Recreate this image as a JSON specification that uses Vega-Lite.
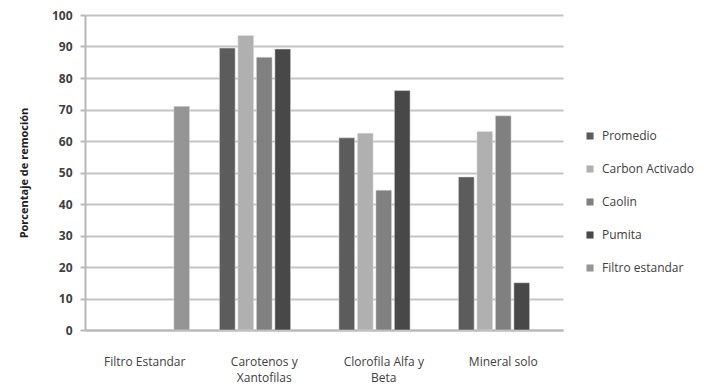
{
  "$schema": "https://vega.github.io/schema/vega-lite/v6.json",
  "width": 478,
  "height": 315,
  "autosize": "none",
  "padding": {"left": 85, "top": 15, "right": 165, "bottom": 55},
  "background": "white",
  "config": {
    "view": {"stroke": null},
    "font": "Open Sans"
  },
  "data": {
    "values": [
      {"grupo": "Filtro Estandar", "serie": "Filtro estandar", "valor": 71},
      {"grupo": "Carotenos y Xantofilas", "serie": "Promedio", "valor": 89.5},
      {"grupo": "Carotenos y Xantofilas", "serie": "Carbon Activado", "valor": 93.5},
      {"grupo": "Carotenos y Xantofilas", "serie": "Caolin", "valor": 86.6},
      {"grupo": "Carotenos y Xantofilas", "serie": "Pumita", "valor": 89.2},
      {"grupo": "Clorofila Alfa y Beta", "serie": "Promedio", "valor": 61},
      {"grupo": "Clorofila Alfa y Beta", "serie": "Carbon Activado", "valor": 62.5},
      {"grupo": "Clorofila Alfa y Beta", "serie": "Caolin", "valor": 44.4},
      {"grupo": "Clorofila Alfa y Beta", "serie": "Pumita", "valor": 76},
      {"grupo": "Mineral solo", "serie": "Promedio", "valor": 48.6},
      {"grupo": "Mineral solo", "serie": "Carbon Activado", "valor": 63},
      {"grupo": "Mineral solo", "serie": "Caolin", "valor": 68},
      {"grupo": "Mineral solo", "serie": "Pumita", "valor": 15}
    ]
  },
  "mark": {"type": "bar", "stroke": "#e0e0e0", "strokeWidth": 0.5},
  "encoding": {
    "x": {
      "field": "grupo",
      "type": "nominal",
      "sort": ["Filtro Estandar", "Carotenos y Xantofilas", "Clorofila Alfa y Beta", "Mineral solo"],
      "scale": {"paddingInner": 0.25, "paddingOuter": 0.125},
      "axis": {
        "title": null,
        "labelAngle": 0,
        "ticks": false,
        "domainColor": "#b8b8b8",
        "domainWidth": 2,
        "labelPadding": 26,
        "labelFontSize": 12,
        "labelColor": "#404040",
        "labelFont": "Open Sans",
        "labelExpr": "datum.value == 'Carotenos y Xantofilas' ? ['Carotenos y', 'Xantofilas'] : datum.value == 'Clorofila Alfa y Beta' ? ['Clorofila Alfa y', 'Beta'] : datum.value",
        "labelLineHeight": 16
      }
    },
    "xOffset": {
      "field": "serie",
      "type": "nominal",
      "sort": ["Promedio", "Carbon Activado", "Caolin", "Pumita", "Filtro estandar"],
      "scale": {"paddingInner": 0.15, "paddingOuter": 0}
    },
    "y": {
      "field": "valor",
      "type": "quantitative",
      "scale": {"domain": [0, 100], "nice": false},
      "axis": {
        "title": "Porcentaje de remoción",
        "titleFontSize": 11,
        "titleFontWeight": "bold",
        "titleColor": "#202020",
        "titlePadding": 22,
        "values": [0, 10, 20, 30, 40, 50, 60, 70, 80, 90, 100],
        "gridColor": "#c4c4c4",
        "gridWidth": 2,
        "domainColor": "#b8b8b8",
        "domainWidth": 2,
        "tickColor": "#b8b8b8",
        "tickWidth": 2,
        "tickSize": 5,
        "labelPadding": 8,
        "labelFontSize": 12,
        "labelFontWeight": "bold",
        "labelColor": "#404040"
      }
    },
    "color": {
      "field": "serie",
      "type": "nominal",
      "sort": ["Promedio", "Carbon Activado", "Caolin", "Pumita", "Filtro estandar"],
      "scale": {
        "domain": ["Promedio", "Carbon Activado", "Caolin", "Pumita", "Filtro estandar"],
        "range": ["#5c5c5c", "#b0b0b0", "#808080", "#484848", "#959595"]
      },
      "legend": {
        "title": null,
        "orient": "none",
        "legendX": 499,
        "legendY": 115,
        "symbolType": "square",
        "symbolSize": 50,
        "symbolStrokeWidth": 0,
        "labelFontSize": 12,
        "labelColor": "#404040",
        "rowPadding": 21,
        "labelOffset": 6
      }
    }
  }
}
